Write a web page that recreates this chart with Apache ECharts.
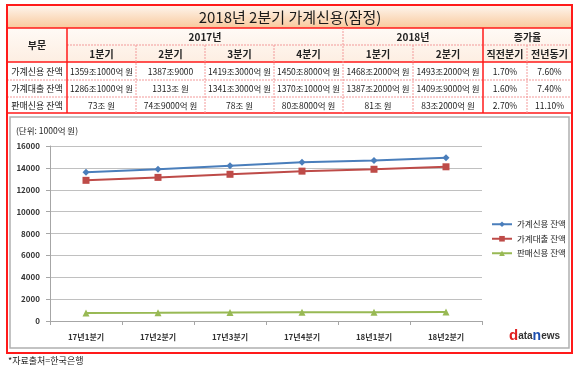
<!DOCTYPE html>
<html><head><meta charset="utf-8">
<script src="https://cdn.jsdelivr.net/npm/echarts@6/dist/echarts.min.js"></script>
<style>html,body{margin:0;padding:0;background:#fff}#c{width:580px;height:368px}</style>
</head><body><div id="c"></div>
<script>
var FONT = '"Noto Sans CJK KR", "Noto Sans", sans-serif';
var title = '2018년 2분기 가계신용(잠정)';
var years = ['2017년', '2018년', '증가율'];
var colHeads = ['1분기', '2분기', '3분기', '4분기', '1분기', '2분기', '직전분기', '전년동기'];
var rowLabels = ['가계신용 잔액', '가계대출 잔액', '판매신용 잔액'];
var row1 = ['1359조1000억 원', '1387조9000', '1419조3000억 원', '1450조8000억 원', '1468조2000억 원', '1493조2000억 원', '1.70%', '7.60%'];
var row2 = ['1286조1000억 원', '1313조 원', '1341조3000억 원', '1370조1000억 원', '1387조2000억 원', '1409조9000억 원', '1.60%', '7.40%'];
var row3 = ['73조 원', '74조9000억 원', '78조 원', '80조8000억 원', '81조 원', '83조2000억 원', '2.70%', '11.10%'];
var categories = ['17년1분기', '17년2분기', '17년3분기', '17년4분기', '18년1분기', '18년2분기'];
var seriesNames = ['가계신용 잔액', '가계대출 잔액', '판매신용 잔액'];
var credit = [13591, 13879, 14193, 14508, 14682, 14932];
var loans = [12861, 13130, 13413, 13701, 13872, 14099];
var sales = [730, 749, 780, 808, 810, 832];
var unitLabel = '(단위: 1000억 원)';
var source = '*자료출처=한국은행';

var colX = [7, 67, 136, 205, 274, 343, 413, 483, 527, 572];
var rowY = [28, 45, 62, 80, 97, 113];
var RED = '#ff1a1a', DASH = '#f39a9a';
var g = [];
g.push({type:'rect', shape:{x:7,y:5,width:565,height:23}, style:{fill:new echarts.graphic.LinearGradient(0,0,0,1,[{offset:0,color:'#fef6ef'},{offset:1,color:'#f9c99c'}])}});
g.push({type:'text', style:{text:title, x:290, y:17, align:'center', verticalAlign:'middle', font:'15px '+FONT, fill:'#1a1a1a'}});
g.push({type:'rect', shape:{x:7,y:28,width:565,height:34}, style:{fill:new echarts.graphic.LinearGradient(0,0,0,1,[{offset:0,color:'#fffaf6'},{offset:1,color:'#fdeee2'}])}});
g.push({type:'text', style:{text:'부문', x:37, y:45, align:'center', verticalAlign:'middle', font:'bold 10px '+FONT, fill:'#222'}});
var spans = [[1,5],[5,7],[7,9]];
for (var i=0;i<3;i++){
  g.push({type:'text', style:{text:years[i], x:(colX[spans[i][0]]+colX[spans[i][1]])/2, y:37, align:'center', verticalAlign:'middle', font:'bold 10px '+FONT, fill:'#222'}});
}
for (var i=0;i<colHeads.length;i++){
  g.push({type:'text', style:{text:colHeads[i], x:(colX[i+1]+colX[i+2])/2, y:54, align:'center', verticalAlign:'middle', font:'bold 10px '+FONT, fill:'#222'}});
}
var rows=[row1,row2,row3];
for (var r=0;r<3;r++){
  var cy=(rowY[r+2]+rowY[r+3])/2+0.5;
  g.push({type:'text', style:{text:rowLabels[r], x:37, y:cy, align:'center', verticalAlign:'middle', font:'9px '+FONT, fill:'#222'}});
  for (var c=0;c<8;c++){
    g.push({type:'text', style:{text:rows[r][c], x:(colX[c+1]+colX[c+2])/2, y:cy, align:'center', verticalAlign:'middle', font:'8.5px '+FONT, fill:'#222'}});
  }
}
function hl(x1,x2,y,dashed){g.push({type:'line', shape:{x1:x1,y1:y,x2:x2,y2:y}, style:{stroke:dashed?DASH:RED, lineWidth:dashed?1:1.5, lineDash:dashed?[2,1]:null}});}
function vl(x,y1,y2,dashed){g.push({type:'line', shape:{x1:x,y1:y1,x2:x,y2:y2}, style:{stroke:dashed?DASH:RED, lineWidth:dashed?1:1.5, lineDash:dashed?[2,1]:null}});}
hl(7,572,28,false); hl(67,572,45,true); hl(7,572,62,false); hl(7,572,80,true); hl(7,572,97,true); hl(7,572,113,false);
vl(67,28,113,false); vl(483,28,113,false); vl(343,28,113,true);
vl(136,45,113,true); vl(205,45,113,true); vl(274,45,113,true); vl(413,45,113,true); vl(527,45,113,true);
g.push({type:'rect', z:-1, shape:{x:10,y:117,width:559,height:231}, style:{fill:'#fff', stroke:'#b0b0b0', lineWidth:1.5}});
g.push({type:'rect', shape:{x:7,y:5,width:565,height:348}, style:{fill:'none', stroke:RED, lineWidth:2}});
g.push({type:'text', style:{text:unitLabel, x:16, y:131, verticalAlign:'middle', font:'8.5px '+FONT, fill:'#222'}});
g.push({type:'text', style:{text:source, x:8, y:361, verticalAlign:'middle', font:'9px '+FONT, fill:'#222'}});
g.push({type:'text', style:{x:509, y:336, verticalAlign:'middle', rich:{d:{fontSize:15,fontWeight:'bold',fill:'#e02020',fontFamily:'Arial'},a:{fontSize:10,fontWeight:'bold',fill:'#333',fontFamily:'Arial'},n:{fontSize:14,fontWeight:'bold',fill:'#1c4fb0',fontFamily:'Arial'}}, text:'{d|d}{a|ata}{n|n}{a|ews}'}});

var chart = echarts.init(document.getElementById('c'));
chart.setOption({
  animation:false,
  textStyle:{fontFamily:FONT},
  graphic:{elements:g},
  grid:{left:50, right:98, top:146, bottom:47, containLabel:false},
  legend:{orient:'vertical', left:486, top:215, itemWidth:20, itemHeight:7, itemGap:6,
    textStyle:{fontSize:8.5, color:'#222'}, data:seriesNames},
  xAxis:{type:'category', data:categories, boundaryGap:true,
    axisLine:{lineStyle:{color:'#a6a6a6'}}, axisTick:{show:true, length:4, lineStyle:{color:'#a6a6a6'}},
    axisLabel:{fontSize:8, fontWeight:'bold', color:'#333', margin:12}},
  yAxis:{type:'value', min:0, max:16000, interval:2000,
    axisLine:{show:true, lineStyle:{color:'#a6a6a6'}}, axisTick:{show:true, length:4, lineStyle:{color:'#a6a6a6'}},
    splitLine:{lineStyle:{color:'#c0c0c0'}},
    axisLabel:{fontSize:8, fontWeight:'bold', color:'#333', margin:10, formatter:function(v){return String(v);}}},
  series:[
    {name:seriesNames[0], type:'line', data:credit, symbol:'diamond', symbolSize:7, color:'#4a7ebb', lineStyle:{width:2}},
    {name:seriesNames[1], type:'line', data:loans, symbol:'rect', symbolSize:7, color:'#be4b48', lineStyle:{width:2}},
    {name:seriesNames[2], type:'line', data:sales, symbol:'triangle', symbolSize:7, color:'#98b954', lineStyle:{width:2}}
  ]
});
</script></body></html>
